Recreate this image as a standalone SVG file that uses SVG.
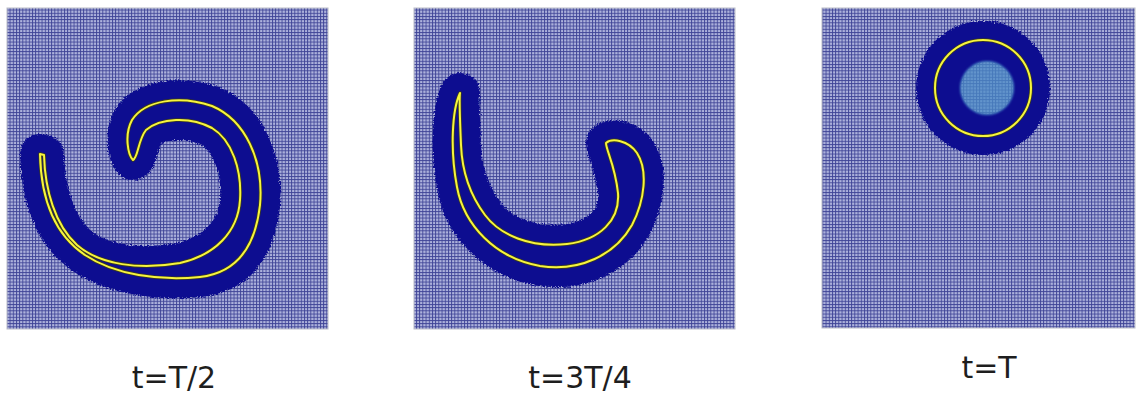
<svg xmlns="http://www.w3.org/2000/svg" width="1136" height="394" viewBox="0 0 1136 394">
  <style>
    .panel { fill: url(#grid); stroke: #b9bbc8; stroke-width: 1; }
    .band { fill: #0b0c90; stroke: #0b0c90; stroke-width: 40; stroke-linejoin: round; }
    .halo { fill: none; stroke: #3a3a20; stroke-width: 3.6; stroke-linejoin: round; }
    .iso { fill: none; stroke: #f6f43e; stroke-width: 2; stroke-linejoin: round; }
    .label { font-family: "DejaVu Sans", "Liberation Sans", sans-serif; font-size: 30px; fill: #1e1e1e; text-anchor: middle; }
  </style>
  <defs>
    <pattern id="grid" patternUnits="userSpaceOnUse" width="3.2" height="3.2">
      <rect width="3.2" height="3.2" fill="#adb2dc"/>
      <rect width="0.9" height="3.2" fill="#3e4396"/>
      <rect width="3.2" height="0.9" fill="#3e4396"/>
    </pattern>
    <filter id="fuzz" x="-20%" y="-20%" width="140%" height="140%">
      <feTurbulence type="fractalNoise" baseFrequency="0.7" numOctaves="1" seed="3" result="n"/>
      <feDisplacementMap in="SourceGraphic" in2="n" scale="6" xChannelSelector="R" yChannelSelector="G" result="d"/>
      <feGaussianBlur in="d" stdDeviation="0.6"/>
    </filter>
    <filter id="soft" x="-30%" y="-30%" width="160%" height="160%">
      <feGaussianBlur stdDeviation="1.2"/>
    </filter>
  </defs>

  <g id="panel-half">
    <rect class="panel" x="7" y="8" width="321" height="321"/>
    <path class="band" filter="url(#fuzz)" d="M40,154 C41,200 55,235 85,255 C115,275 160,281 200,277 C235,273 255,250 260,205 C264,160 245,120 212,106 C180,95 145,100 132,120 C124,135 128,155 133,160 C138,158 138,140 146,130 C160,118 190,116 212,128 C232,140 242,170 240,200 C238,232 215,255 180,263 C140,270 100,265 77,245 C55,225 45,190 44,155 Z"/>
    <path class="halo" d="M40,154 C41,200 55,235 85,255 C115,275 160,281 200,277 C235,273 255,250 260,205 C264,160 245,120 212,106 C180,95 145,100 132,120 C124,135 128,155 133,160 C138,158 138,140 146,130 C160,118 190,116 212,128 C232,140 242,170 240,200 C238,232 215,255 180,263 C140,270 100,265 77,245 C55,225 45,190 44,155 Z"/>
    <path class="iso" d="M40,154 C41,200 55,235 85,255 C115,275 160,281 200,277 C235,273 255,250 260,205 C264,160 245,120 212,106 C180,95 145,100 132,120 C124,135 128,155 133,160 C138,158 138,140 146,130 C160,118 190,116 212,128 C232,140 242,170 240,200 C238,232 215,255 180,263 C140,270 100,265 77,245 C55,225 45,190 44,155 Z"/>
    <text class="label" x="174" y="388">t=T/2</text>
  </g>

  <g id="panel-three-quarter">
    <rect class="panel" x="414" y="8" width="321" height="321"/>
    <path class="band" filter="url(#fuzz)" d="M460,93 C452,110 450,150 457,187 C464,225 495,258 540,266 C580,272 615,255 632,225 C645,200 648,170 637,153 C628,140 612,138 606,143 C606,150 615,165 618,193 C620,220 600,240 567,244 C530,248 500,235 485,215 C470,195 462,170 461,145 C460,120 459,100 460,93 Z"/>
    <path class="halo" d="M460,93 C452,110 450,150 457,187 C464,225 495,258 540,266 C580,272 615,255 632,225 C645,200 648,170 637,153 C628,140 612,138 606,143 C606,150 615,165 618,193 C620,220 600,240 567,244 C530,248 500,235 485,215 C470,195 462,170 461,145 C460,120 459,100 460,93 Z"/>
    <path class="iso" d="M460,93 C452,110 450,150 457,187 C464,225 495,258 540,266 C580,272 615,255 632,225 C645,200 648,170 637,153 C628,140 612,138 606,143 C606,150 615,165 618,193 C620,220 600,240 567,244 C530,248 500,235 485,215 C470,195 462,170 461,145 C460,120 459,100 460,93 Z"/>
    <text class="label" x="580" y="388">t=3T/4</text>
  </g>

  <g id="panel-final">
    <rect class="panel" x="822" y="8" width="313" height="320"/>
    <circle cx="983" cy="88" r="67" fill="#0b0c90" filter="url(#fuzz)"/>
    <circle cx="987" cy="88" r="27" fill="#4a8ac6" filter="url(#soft)"/>
    <circle cx="987" cy="88" r="26" fill="url(#grid)" opacity="0.25"/>
    <circle cx="983" cy="88" r="48" fill="none" stroke="#3a3a20" stroke-width="3.6"/>
    <circle cx="983" cy="88" r="48" fill="none" stroke="#f6f43e" stroke-width="2"/>
    <text class="label" x="989" y="378">t=T</text>
  </g>

  <g id="connectors"/>
</svg>
